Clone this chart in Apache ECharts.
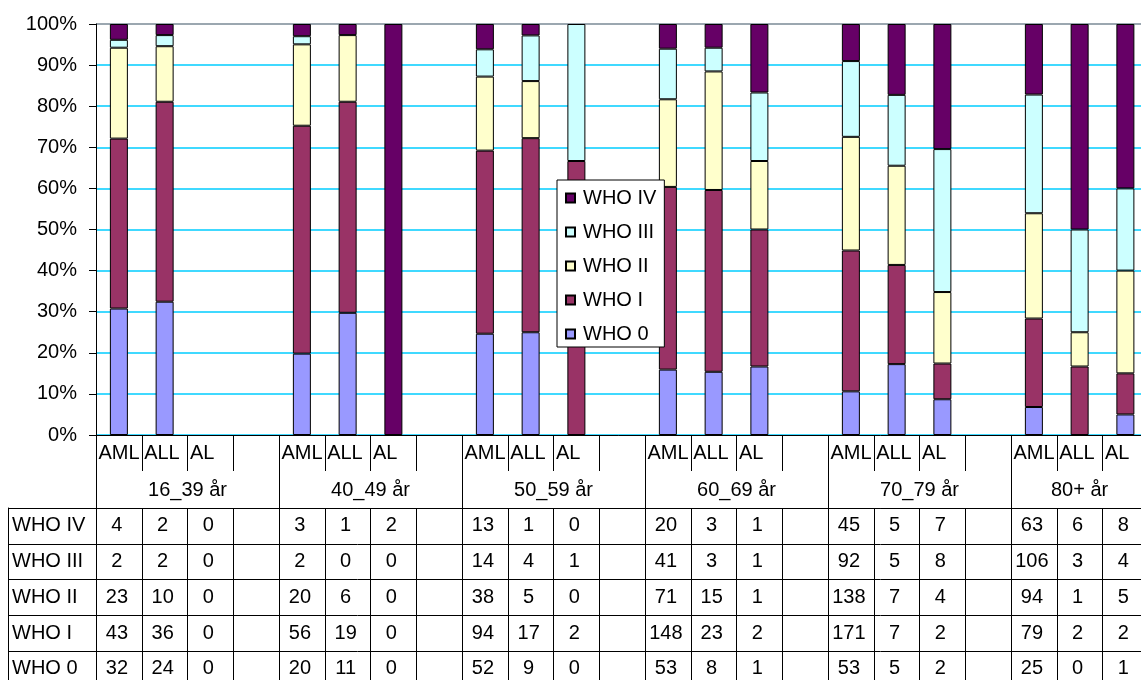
<!DOCTYPE html>
<html>
<head>
<meta charset="utf-8">
<script src="https://cdn.jsdelivr.net/npm/echarts@6/dist/echarts.min.js"></script>
<style>
  html, body { margin: 0; padding: 0; background: #ffffff; }
  #chart { width: 1141px; height: 680px; }
</style>
</head>
<body>
<div id="chart"></div>
<script>
// Age groups and diagnoses (each group holds AML, ALL, AL; a spacer slot separates groups)
const ageGroups = ['16_39 år', '40_49 år', '50_59 år', '60_69 år', '70_79 år', '80+ år'];
const diagnoses = ['AML', 'ALL', 'AL'];

// WHO performance grades, top row of the table first
const gradeNames = ['WHO IV', 'WHO III', 'WHO II', 'WHO I', 'WHO 0'];
const gradeColors = ['#660066', '#CCFFFF', '#FFFFCC', '#993366', '#9999FF'];

// Patient counts, per age group in the order AML, ALL, AL
const who4 = [4, 2, 0,   3, 1, 2,   13, 1, 0,   20, 3, 1,    45, 5, 7,   63, 6, 8];
const who3 = [2, 2, 0,   2, 0, 0,   14, 4, 1,   41, 3, 1,    92, 5, 8,   106, 3, 4];
const who2 = [23, 10, 0, 20, 6, 0,  38, 5, 0,   71, 15, 1,   138, 7, 4,  94, 1, 5];
const who1 = [43, 36, 0, 56, 19, 0, 94, 17, 2,  148, 23, 2,  171, 7, 2,  79, 2, 2];
const who0 = [32, 24, 0, 20, 11, 0, 52, 9, 0,   53, 8, 1,    53, 5, 2,   25, 0, 1];

const gradeCounts = [who4, who3, who2, who1, who0];

const FONT = 'Liberation Sans, Arial, sans-serif';

// slot layout: diagnoses of each group, plus a spacer after every group but the last
const slotLabels = [];
const groupStarts = [];
ageGroups.forEach((g, gi) => {
  groupStarts.push(slotLabels.length);
  diagnoses.forEach(d => slotLabels.push(d));
  if (gi < ageGroups.length - 1) slotLabels.push('');
});
const slotCount = slotLabels.length;
const groupEnds = groupStarts.slice(1).concat([slotCount]);
const groupCenters = groupStarts.map((s, i) => (s + groupEnds[i]) / 2);
const slotOf = i => groupStarts[Math.floor(i / diagnoses.length)] + (i % diagnoses.length);

// column totals for the 100 % stacking
const totals = who0.map((_, i) => gradeCounts.reduce((s, arr) => s + arr[i], 0));

function percentSeriesData(counts) {
  const out = new Array(slotCount).fill(null);
  counts.forEach((c, i) => {
    if (c > 0 && totals[i] > 0) out[slotOf(i)] = c / totals[i] * 100;
  });
  return out;
}

// bars stack from WHO 0 upwards
const barSeries = gradeNames.slice().reverse().map((name) => {
  const gi = gradeNames.indexOf(name);
  return {
    name: name,
    type: 'bar',
    stack: 'grade',
    xAxisIndex: 0,
    yAxisIndex: 0,
    barWidth: 18,
    itemStyle: { color: gradeColors[gi], borderColor: '#000000', borderWidth: 1 },
    emphasis: { disabled: true },
    data: percentSeriesData(gradeCounts[gi])
  };
});

// table cells: [slot, row, count]
const tableCells = [];
gradeCounts.forEach((counts, row) => {
  counts.forEach((c, i) => tableCells.push([slotOf(i), row, c]));
});

const slotIndices = Array.from({ length: slotCount }, (_, i) => i);
const splitColors = Array.from({ length: 11 }, (_, i) => (i === 10 ? '#7a8a96' : '#00ccff'));
const plotRight = 1141 - (96 + slotCount * 45.75);

const chart = echarts.init(document.getElementById('chart'), null, { renderer: 'canvas' });

chart.setOption({
  animation: false,
  backgroundColor: '#ffffff',
  textStyle: { fontFamily: FONT },
  grid: [
    { left: 96, top: 24, right: plotRight, height: 411, containLabel: false, outerBoundsMode: 'none' },
    { left: 96, top: 508, right: plotRight, height: 178.75, containLabel: false, outerBoundsMode: 'none' }
  ],
  legend: {
    orient: 'vertical',
    left: 557,
    top: 180,
    padding: [8, 8, 3, 8],
    itemGap: 14,
    itemWidth: 9,
    itemHeight: 9,
    icon: 'rect',
    backgroundColor: '#ffffff',
    borderColor: '#000000',
    borderWidth: 1,
    selectedMode: false,
    data: gradeNames,
    textStyle: { fontFamily: FONT, fontSize: 20, color: '#000000', lineHeight: 20, padding: [0, 0, 0, 3] }
  },
  xAxis: [
    {
      gridIndex: 0,
      type: 'category',
      position: 'bottom',
      data: slotLabels,
      axisLine: { show: true, lineStyle: { color: '#000000', width: 1 } },
      axisTick: { show: true, interval: 0, length: 36, lineStyle: { color: '#000000', width: 1 } },
      axisLabel: {
        interval: 0,
        margin: 8,
        formatter: v => (v ? '{a|' + v + '}' : ''),
        rich: { a: { width: 41, align: 'left', fontSize: 20, lineHeight: 20, fontFamily: FONT, color: '#000000' } }
      },
      splitLine: { show: false }
    },
    {
      // age group row: dividers at group starts, names at group centres
      gridIndex: 0,
      type: 'value',
      position: 'bottom',
      min: 0,
      max: slotCount,
      axisLine: { show: false },
      axisTick: { show: true, customValues: groupStarts.concat([slotCount]), length: 73, lineStyle: { color: '#000000', width: 1 } },
      axisLabel: {
        customValues: groupCenters,
        margin: 45,
        fontSize: 20,
        lineHeight: 20,
        color: '#000000',
        fontFamily: FONT,
        formatter: v => {
          const i = groupCenters.indexOf(v);
          return i >= 0 ? ageGroups[i] : '';
        }
      },
      splitLine: { show: false }
    },
    {
      gridIndex: 1,
      type: 'category',
      position: 'top',
      data: slotIndices,
      axisLine: { show: true, lineStyle: { color: '#000000', width: 1 } },
      axisTick: { show: false },
      axisLabel: { show: false },
      splitLine: { show: true, interval: 0, lineStyle: { color: '#000000', width: 1 } }
    }
  ],
  yAxis: [
    {
      gridIndex: 0,
      type: 'value',
      min: 0,
      max: 100,
      interval: 10,
      axisLine: { show: true, lineStyle: { color: '#000000', width: 1 } },
      axisTick: { show: true, length: 7, lineStyle: { color: '#000000', width: 1 } },
      axisLabel: { formatter: '{value}%', margin: 19, fontSize: 20, color: '#000000', fontFamily: FONT },
      splitLine: { show: true, lineStyle: { color: splitColors, width: 1.5 } }
    },
    {
      gridIndex: 1,
      type: 'category',
      position: 'left',
      inverse: true,
      data: gradeNames,
      axisLine: { show: true, lineStyle: { color: '#000000', width: 1 } },
      axisTick: { show: true, interval: 0, length: 88, lineStyle: { color: '#000000', width: 1 } },
      axisLabel: { interval: 0, align: 'left', margin: 84, fontSize: 20, color: '#000000', fontFamily: FONT },
      splitLine: { show: true, interval: 0, lineStyle: { color: '#000000', width: 1 } }
    },
    {
      gridIndex: 1,
      type: 'category',
      position: 'left',
      offset: 88,
      inverse: true,
      data: gradeNames,
      axisLine: { show: true, lineStyle: { color: '#000000', width: 1 } },
      axisTick: { show: false },
      axisLabel: { show: false },
      splitLine: { show: false }
    }
  ],
  series: barSeries.concat([
    {
      name: 'table',
      type: 'custom',
      xAxisIndex: 2,
      yAxisIndex: 1,
      silent: true,
      encode: { x: 0, y: 1 },
      data: tableCells,
      renderItem: function (params, api) {
        const p = api.coord([api.value(0), api.value(1)]);
        return {
          type: 'text',
          x: p[0] - 2,
          y: p[1],
          style: {
            text: String(api.value(2)),
            fill: '#000000',
            font: '20px ' + FONT,
            align: 'center',
            verticalAlign: 'middle'
          }
        };
      }
    }
  ])
});
</script>
</body>
</html>
